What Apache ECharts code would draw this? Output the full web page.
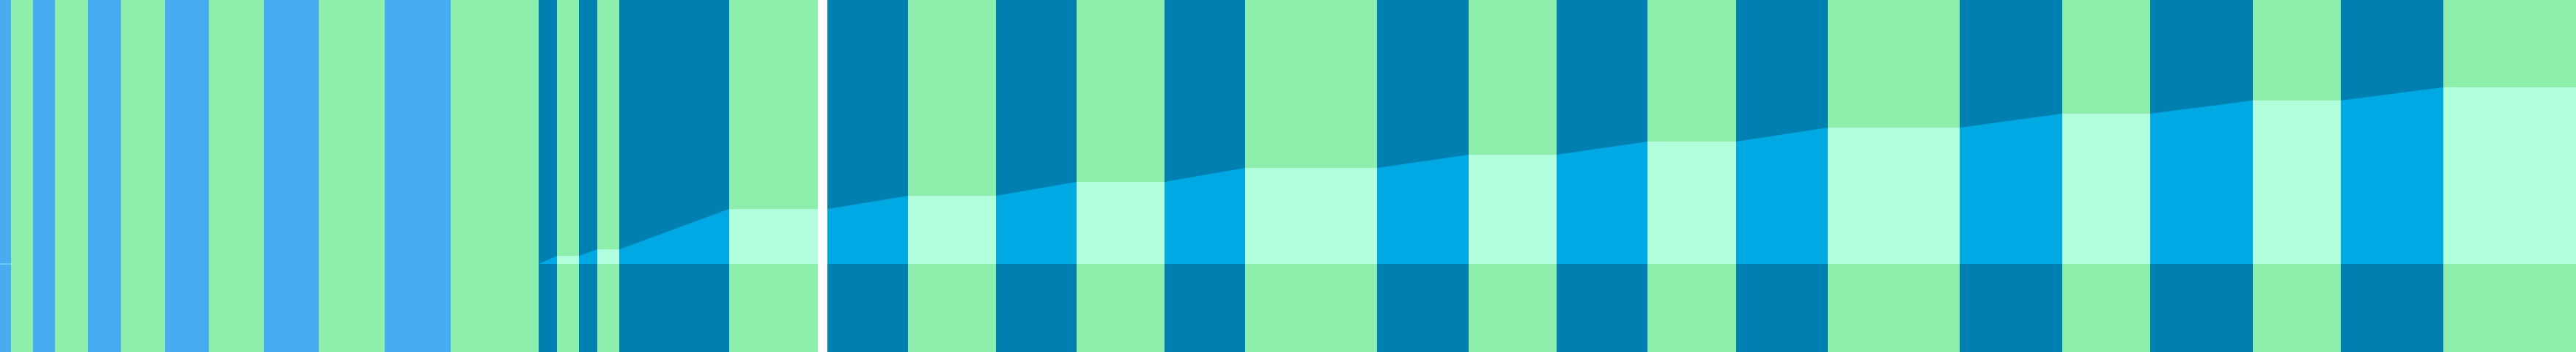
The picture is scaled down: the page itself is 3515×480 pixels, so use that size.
<!DOCTYPE html>
<html>
<head>
<meta charset="utf-8">
<style>
  html, body { margin: 0; padding: 0; background: #ffffff; }
  #chart { width: 3515px; height: 480px; }
</style>
<script src="https://cdn.jsdelivr.net/npm/echarts@6/dist/echarts.min.js"></script>
</head>
<body>
<div id="chart"></div>
<script>
// band edges along x, one kind per band between two edges
const bandEdges = [0, 15, 45, 75, 120, 165, 225, 285, 360, 435, 525, 615,
    735, 760, 790, 815, 845, 995, 1116, 1129, 1239, 1359, 1469, 1589, 1699,
    1879, 2004, 2124, 2248, 2369, 2494, 2674, 2814, 2934, 3074, 3194, 3334, 3515];
const bandKinds = ['L', 'G', 'L', 'G', 'L', 'G', 'L', 'G', 'L', 'G', 'L', 'G',
    'D', 'G', 'D', 'G', 'D', 'G', 'W', 'D', 'G', 'D', 'G', 'D', 'G',
    'D', 'G', 'D', 'G', 'D', 'G', 'D', 'G', 'D', 'G', 'D', 'G'];
// level of the filled area at each band edge (null = no area)
const edgeLevels = [null, null, null, null, null, null, null, null, null, null, null, null,
    0, 11, 11, 20, 20, 75, 75, 75, 93, 93, 112, 112, 131,
    131, 149, 149, 167, 167, 186, 186, 205, 205, 223, 223, 241, 241];
// short flat trace at the very left
const leftTrace = [[0, 0], [15, 0]];

const kindColors = {L: '#48acf0', G: '#8eeeab', D: '#0080b0', W: '#ffffff'};

const chart = echarts.init(document.getElementById('chart'), null, {renderer: 'canvas'});

const bands = [];
const rampData = [];
const flatData = [];
for (let i = 0; i < bandKinds.length; i++) {
    const kind = bandKinds[i];
    bands.push([
        {xAxis: bandEdges[i], itemStyle: {color: kindColors[kind]}},
        {xAxis: bandEdges[i + 1]},
    ]);
    if (edgeLevels[i] === null || edgeLevels[i + 1] === null || kind === 'W') {
        continue;
    }
    const target = kind === 'D' ? rampData : flatData;
    target.push([bandEdges[i], edgeLevels[i]], [bandEdges[i + 1], edgeLevels[i + 1]], [bandEdges[i + 1], null]);
}

function areaSeries(name, data, color) {
    return {
        name: name,
        type: 'line',
        data: data,
        symbol: 'none',
        connectNulls: false,
        silent: true,
        lineStyle: {width: 0, color: color},
        areaStyle: {color: color, opacity: 1, origin: 0},
        z: 3,
    };
}

chart.setOption({
    animation: false,
    grid: {left: 0, right: 0, top: 0, bottom: 0},
    xAxis: {type: 'value', min: 0, max: 3515, show: false},
    yAxis: {type: 'value', min: -120, max: 360, show: false},
    series: [
        {
            name: 'bands',
            type: 'line',
            data: [],
            silent: true,
            markArea: {silent: true, data: bands},
            z: 1,
        },
        areaSeries('ramp', rampData, '#00a8e4'),
        areaSeries('flat', flatData, '#b2ffdd'),
        {
            name: 'trace',
            type: 'line',
            data: leftTrace,
            symbol: 'none',
            silent: true,
            lineStyle: {width: 1.5, color: '#7cd0f7'},
            z: 4,
        },
    ],
});
</script>
</body>
</html>
